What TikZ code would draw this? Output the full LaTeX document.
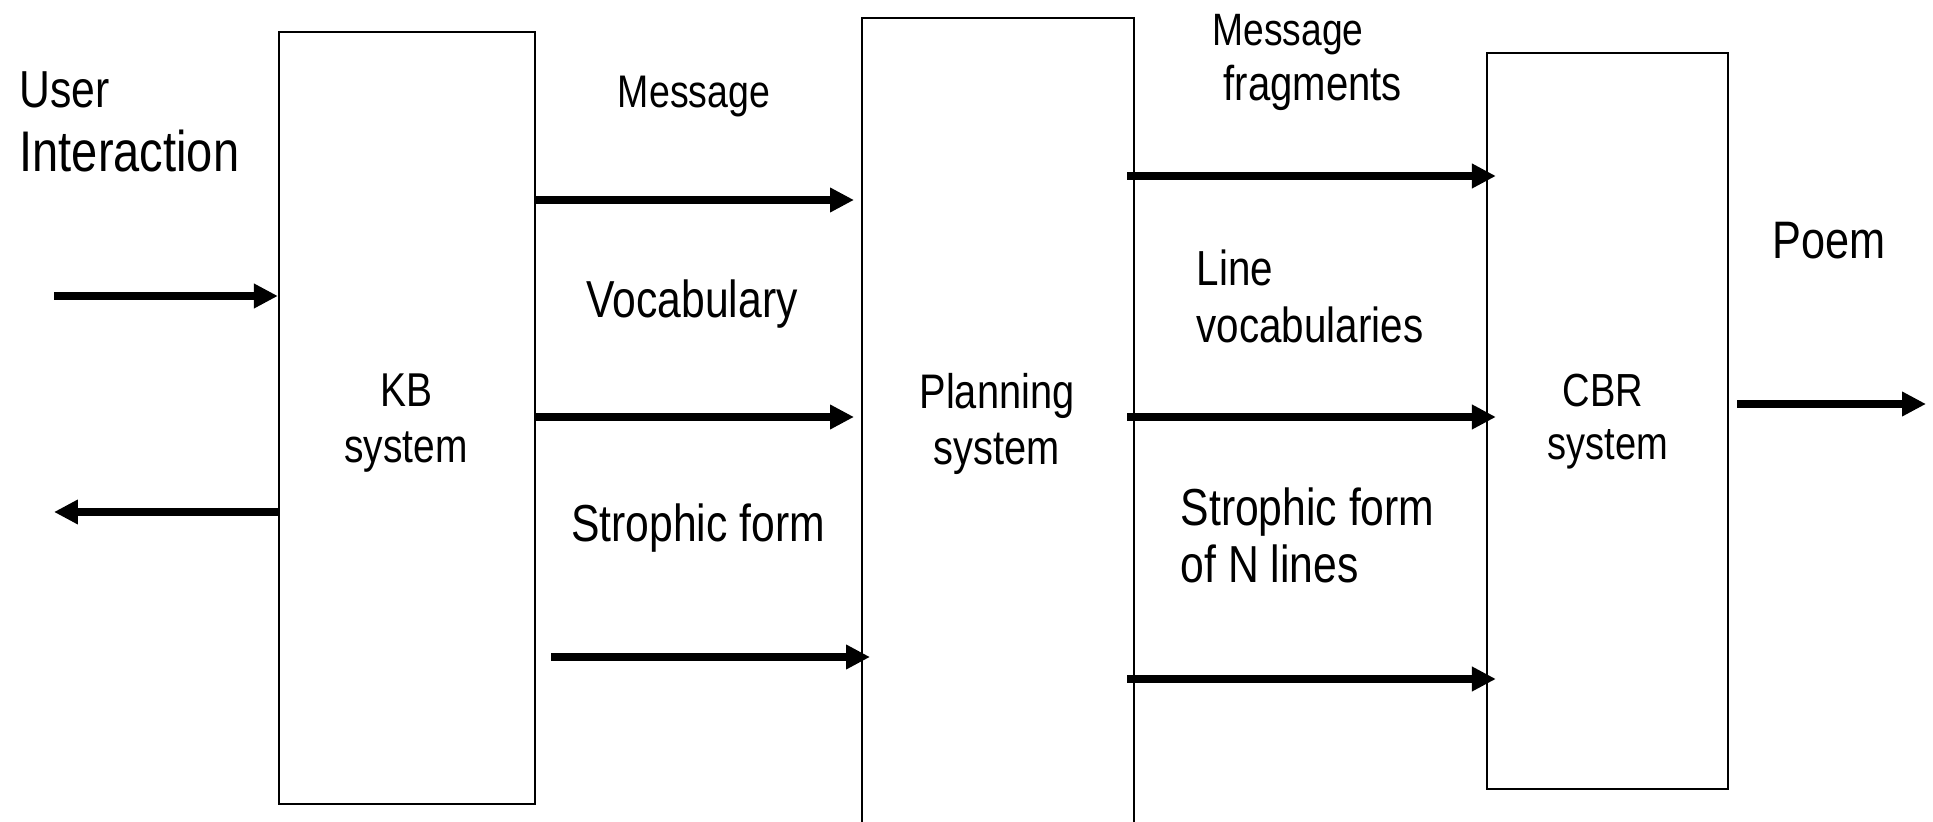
\documentclass[tikz,border=0pt]{standalone}
\usepackage{fontspec}
\setmainfont{Liberation Sans}[FakeStretch=0.82]
\usetikzlibrary{arrows.meta}
\begin{document}
\begin{tikzpicture}[x=0.01cm, y=-0.01cm,
  box/.style={draw, line width=0.6pt, inner sep=0pt},
  flow/.style={line width=2.2pt, -{Triangle[length=6.8pt,width=6.6pt]}},
  lbl/.style={inner sep=0pt, font=\fontsize{#1}{#1}\selectfont},
  lbl/.default=13.5]
\useasboundingbox (0,0) rectangle (1933,822);

% the three subsystems
\node[box, minimum width=2.56cm, minimum height=7.72cm] (kb) at (407,418) {};
\node[box, minimum width=2.72cm, minimum height=8.32cm] (plan) at (998,434) {};
\node[box, minimum width=2.41cm, minimum height=7.36cm] (cbr) at (1607.5,421) {};

% box captions
\node[lbl=13.5, anchor=base] (kb1) at (406,407) {KB};
\node[lbl=13.5, anchor=base] (kb2) at (406,463) {system};
\node[lbl=13.8, anchor=base] (pl1) at (997,409) {Planning};
\node[lbl=13.8, anchor=base] (pl2) at (997,465) {system};
\node[lbl=13.2, anchor=base] (cb1) at (1603,407) {CBR};
\node[lbl=13.2, anchor=base] (cb2) at (1608,460) {system};

% user side
\node[lbl=14.8, anchor=base west] (user) at (19,108) {User};
\node[lbl=16.3, anchor=base west] (inter) at (19,172) {Interaction};
\coordinate (uin) at (54,296);
\coordinate (uout) at (54,512);
\draw[flow] (uin) -- (kb.west |- uin);
\draw[flow] (kb.west |- uout) -- (uout);

% KB system -> planning system
\node[lbl=13, anchor=base] (msg) at (694,108) {Message};
\node[lbl=14.8, anchor=base] (voc) at (692,318) {Vocabulary};
\node[lbl=14.8, anchor=base] (str) at (698,542) {Strophic form};
\coordinate (a1) at (854,200);
\coordinate (a2) at (854,417);
\coordinate (a3s) at (551,657);
\coordinate (a3) at (870,657);
\draw[flow] (kb.east |- a1) -- (a1);
\draw[flow] (kb.east |- a2) -- (a2);
\draw[flow] (a3s) -- (a3);

% planning system -> CBR system
\node[lbl=12.9, anchor=base west] (mf1) at (1212,46) {Message};
\node[lbl=13.9, anchor=base west] (mf2) at (1223,101) {fragments};
\node[lbl=14.0, anchor=base west] (lv1) at (1196,286) {Line};
\node[lbl=14.0, anchor=base west] (lv2) at (1196,343) {vocabularies};
\node[lbl=14.8, anchor=base west] (sn1) at (1180,526) {Strophic form};
\node[lbl=14.8, anchor=base west] (sn2) at (1180,583) {of N lines};
\coordinate (b1) at (1127,176);
\coordinate (b2) at (1127,417);
\coordinate (b3) at (1127,679);
\draw[flow] (b1) -- ([xshift=1mm]cbr.west |- b1);
\draw[flow] (b2) -- ([xshift=1mm]cbr.west |- b2);
\draw[flow] (b3) -- ([xshift=1mm]cbr.west |- b3);

% output
\node[lbl=15, anchor=base west] (poem) at (1772,259) {Poem};
\coordinate (out) at (1926,404);
\draw[flow] (cbr.east |- out) ++(8,0) -- (out);
\end{tikzpicture}
\end{document}
